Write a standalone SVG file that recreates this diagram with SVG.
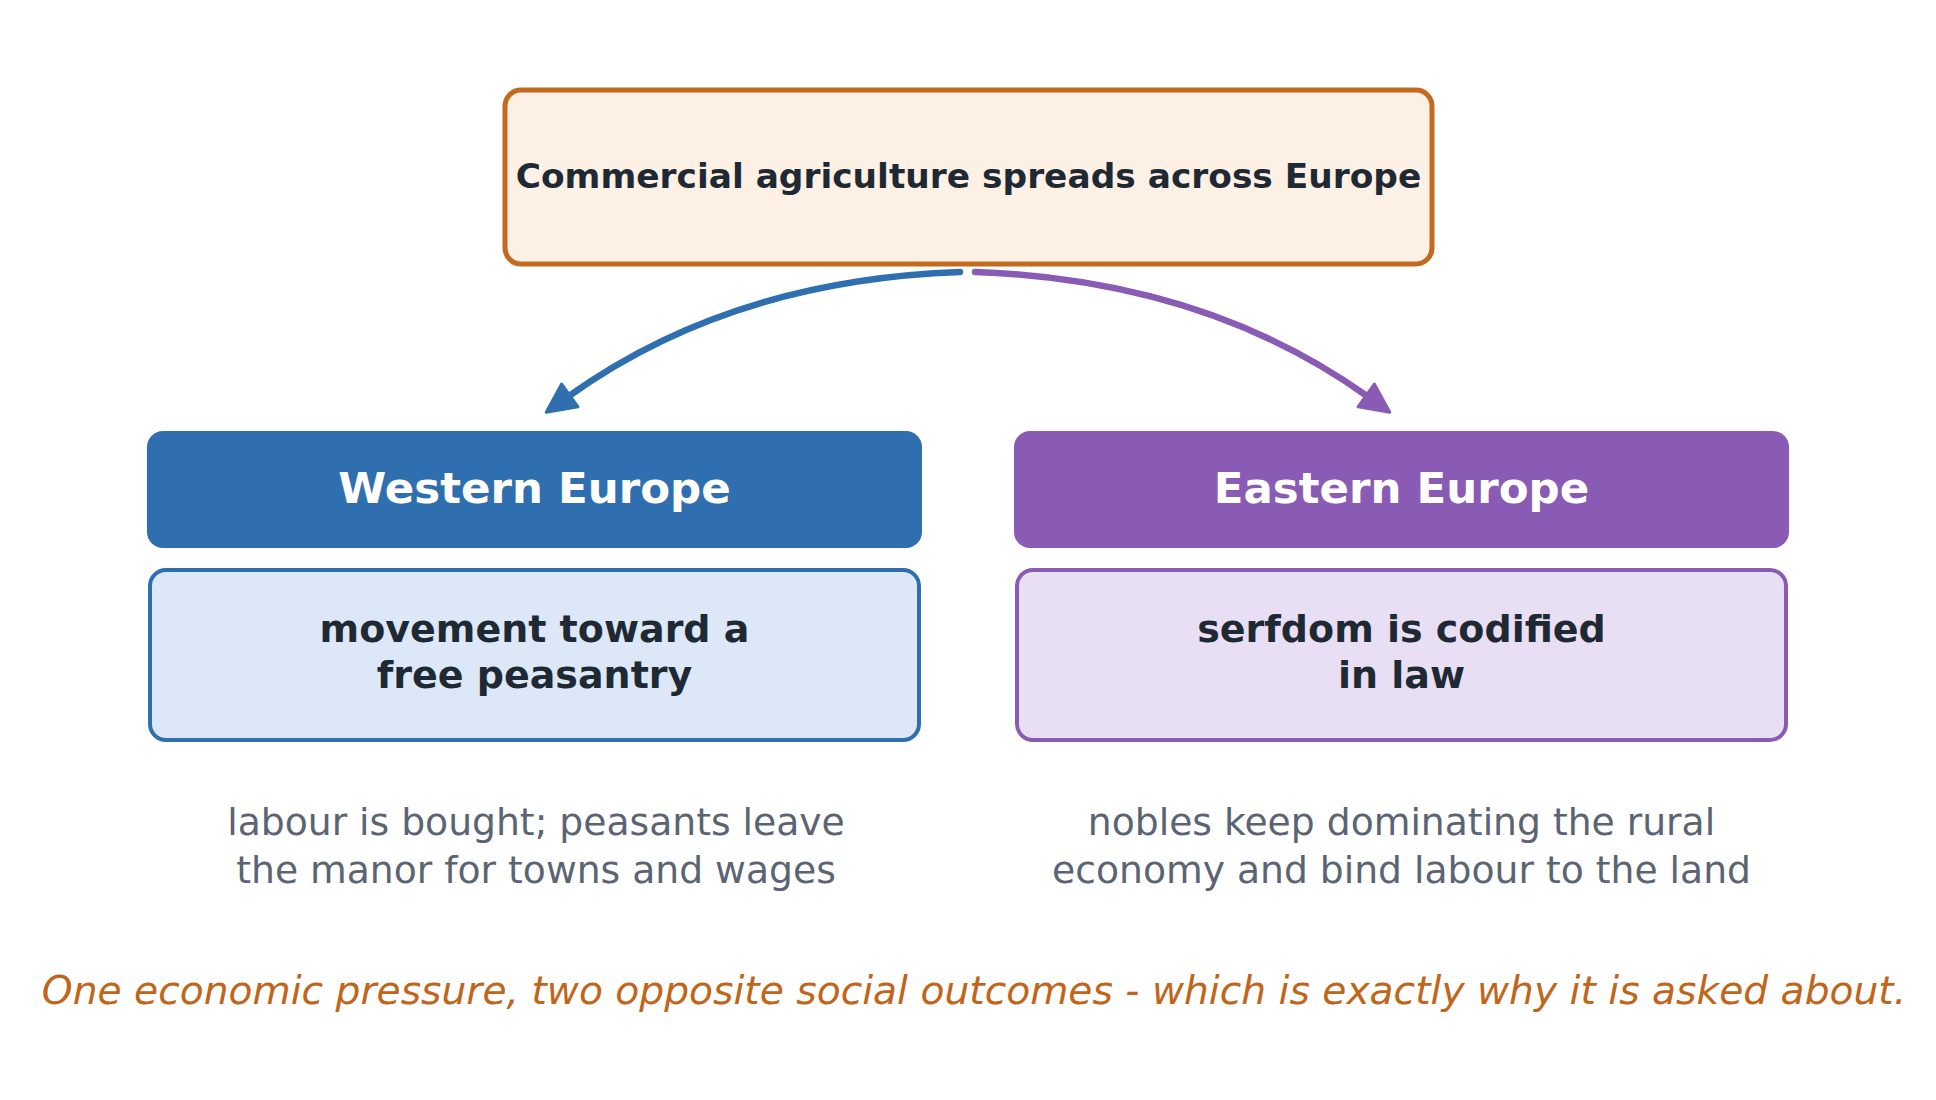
<svg xmlns="http://www.w3.org/2000/svg" width="1936" height="1100" viewBox="0 0 1936 1100">
  <style>
    .bold { font-family: "DejaVu Sans", "Liberation Sans", sans-serif; font-weight: bold; }
    .reg { font-family: "DejaVu Sans", "Liberation Sans", sans-serif; }
    .title { font-size: 34.4px; fill: #1f2933; }
    .hdr { font-size: 43.5px; fill: #ffffff; }
    .detail { font-size: 38px; fill: #1f2933; }
    .note { font-size: 37.7px; fill: #5a6472; }
    .caption { font-size: 39.2px; fill: #c0651a; font-style: italic; }
    .conn { fill: none; stroke-width: 6.5; stroke-linecap: round; }
  </style>
  <defs>
    <marker id="arrow-blue" markerUnits="userSpaceOnUse" markerWidth="32" markerHeight="32" refX="1" refY="14" orient="auto" overflow="visible">
      <path d="M0,0 L29,14 L0,28 Z" fill="#2f6fb0" stroke="#2f6fb0" stroke-width="3" stroke-linejoin="round"/>
    </marker>
    <marker id="arrow-purple" markerUnits="userSpaceOnUse" markerWidth="32" markerHeight="32" refX="1" refY="14" orient="auto" overflow="visible">
      <path d="M0,0 L29,14 L0,28 Z" fill="#8a5bb5" stroke="#8a5bb5" stroke-width="3" stroke-linejoin="round"/>
    </marker>
  </defs>
  <rect width="1936" height="1100" fill="#ffffff"/>

  <g id="node-top">
    <rect x="505" y="90" width="927" height="174" rx="16" fill="#fdf1e5" stroke="#c46a1e" stroke-width="5"/>
    <text class="bold title" x="968.5" y="188" text-anchor="middle">Commercial agriculture spreads across Europe</text>
  </g>

  <g id="connectors">
    <path class="conn" d="M960,272 Q731,280 569,396" stroke="#2f6fb0" marker-end="url(#arrow-blue)"/>
    <path class="conn" d="M975,272 Q1204,280 1367,396" stroke="#8a5bb5" marker-end="url(#arrow-purple)"/>
  </g>

  <g id="node-west-header">
    <rect x="147" y="431" width="775" height="117" rx="16" fill="#2f6fb0"/>
    <text class="bold hdr" x="534.5" y="503" text-anchor="middle">Western Europe</text>
  </g>
  <g id="node-east-header">
    <rect x="1014" y="431" width="775" height="117" rx="16" fill="#8a5bb5"/>
    <text class="bold hdr" x="1401.5" y="503" text-anchor="middle">Eastern Europe</text>
  </g>

  <g id="node-west-detail">
    <rect x="150" y="570" width="769" height="170" rx="16" fill="#dce8f7" stroke="#2f6fb0" stroke-width="4"/>
    <text class="bold detail" text-anchor="middle"><tspan x="534.5" y="642">movement toward a</tspan><tspan x="534.5" y="688">free peasantry</tspan></text>
  </g>
  <g id="node-east-detail">
    <rect x="1017" y="570" width="769" height="170" rx="16" fill="#e8dff4" stroke="#8a5bb5" stroke-width="4"/>
    <text class="bold detail" text-anchor="middle"><tspan x="1401.5" y="642">serfdom is codified</tspan><tspan x="1401.5" y="688">in law</tspan></text>
  </g>

  <g id="note-west">
    <text class="reg note" text-anchor="middle"><tspan x="536" y="835">labour is bought; peasants leave</tspan><tspan x="536" y="883">the manor for towns and wages</tspan></text>
  </g>
  <g id="note-east">
    <text class="reg note" text-anchor="middle"><tspan x="1401.5" y="835">nobles keep dominating the rural</tspan><tspan x="1401.5" y="883">economy and bind labour to the land</tspan></text>
  </g>

  <g id="caption">
    <text class="reg caption" x="974" y="1004" text-anchor="middle">One economic pressure, two opposite social outcomes - which is exactly why it is asked about.</text>
  </g>
</svg>
